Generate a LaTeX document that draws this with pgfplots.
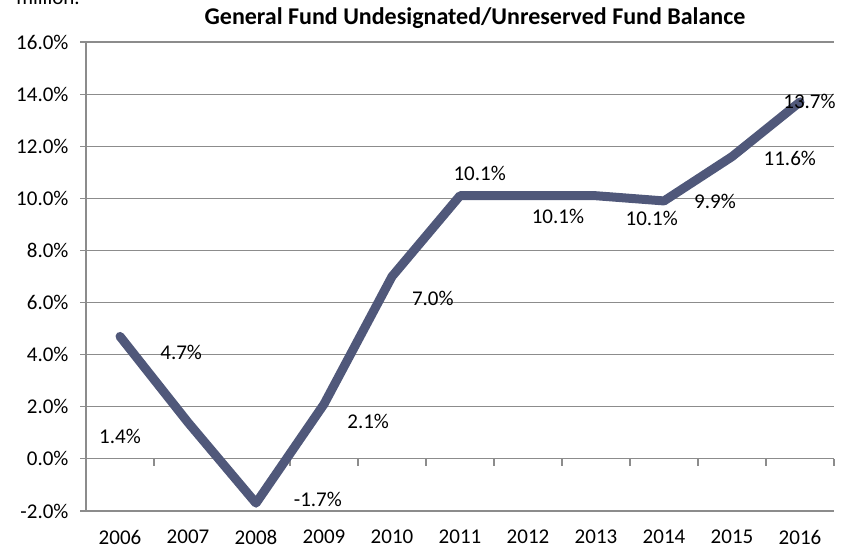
\documentclass[border=0pt]{standalone}
\usepackage{pgfplots}
\pgfplotsset{compat=1.18}
\usepackage{fontspec}
\setmainfont{Carlito}
\definecolor{linec}{HTML}{50587A}
\definecolor{gridc}{HTML}{8C8C8C}
\begin{document}
\begin{tikzpicture}
\useasboundingbox (0pt,0pt) rectangle (841pt,550pt);
\node[anchor=base east,font=\fontsize{21}{24}\selectfont,inner sep=0pt] at (80pt,545pt) {million.};
\node[font=\fontsize{24}{28}\selectfont\bfseries] at (475pt,532pt) {General Fund Undesignated/Unreserved Fund Balance};
\begin{axis}[
  at={(86pt,39pt)}, anchor=south west,
  scale only axis, width=748pt, height=469pt,
  xmin=-0.5, xmax=10.5, ymin=-2, ymax=16,
  axis x line=none,
  axis y line*=left,
  axis line style={gridc, line width=1.2pt},
  ytick={-2,0,2,4,6,8,10,12,14,16},
  yticklabels={-2.0\%,0.0\%,2.0\%,4.0\%,6.0\%,8.0\%,10.0\%,12.0\%,14.0\%,16.0\%},
  ymajorgrids, grid style={gridc, line width=1.2pt},
  major tick length=6pt,
  y tick style={gridc, line width=1.2pt},
  tick align=outside,
  yticklabel style={font=\fontsize{21}{24}\selectfont, xshift=-8pt},
  clip=false,
]
\foreach \i/\y in {0/2006,1/2007,2/2008,3/2009,4/2010,5/2011,6/2012,7/2013,8/2014,9/2015,10/2016}{
  \edef\tmp{\noexpand\node[font=\noexpand\fontsize{21}{24}\noexpand\selectfont] at (axis cs:\i,-2) [yshift=-26pt] {\y};}
  \tmp
}
\draw[gridc, line width=1.2pt] (axis cs:-0.5,0) -- (axis cs:10.5,0);
\foreach \b in {0.5,1.5,...,10.5}{
  \edef\tmp{\noexpand\draw[gridc, line width=1.2pt] (axis cs:\b,0) -- ++(0pt,-7pt);}
  \tmp
}
\addplot[linec, line width=9pt, line join=round, line cap=round] coordinates {
(0,4.7) (1,1.4) (2,-1.7) (3,2.1) (4,7.0) (5,10.1) (6,10.1) (7,10.1) (8,9.9) (9,11.6) (10,13.7)
};
\begin{scope}[every node/.style={font=\fontsize{21}{24}\selectfont}]
\node at (axis cs:0,0.85) {1.4\%};
\node at (axis cs:0.9,4.1) {4.7\%};
\node at (axis cs:2.91,-1.54) {-1.7\%};
\node at (axis cs:3.65,1.42) {2.1\%};
\node at (axis cs:4.6,6.15) {7.0\%};
\node at (axis cs:5.29,10.96) {10.1\%};
\node at (axis cs:6.44,9.31) {10.1\%};
\node at (axis cs:7.82,9.23) {10.1\%};
\node at (axis cs:8.75,9.88) {9.9\%};
\node at (axis cs:9.85,11.54) {11.6\%};
\node at (axis cs:10.14,13.73) {13.7\%};
\end{scope}
\end{axis}
\end{tikzpicture}
\end{document}
